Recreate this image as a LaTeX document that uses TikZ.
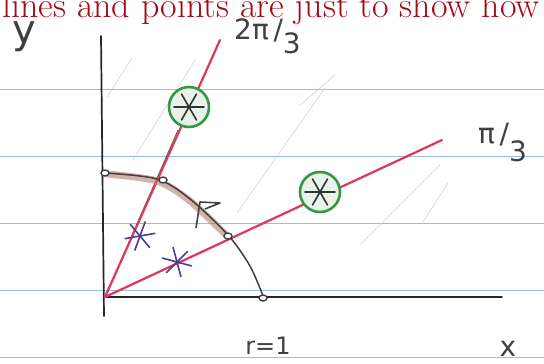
\documentclass[tikz,border=0pt]{standalone}
\usepackage{fontspec}
\newfontfamily\handfont{DejaVu Sans}
\usetikzlibrary{calc, shapes.geometric}
\definecolor{titlered}{RGB}{165,10,20}
\definecolor{inkred}{RGB}{222,55,90}
\definecolor{inkgreen}{RGB}{55,150,70}
\definecolor{inkpurple}{RGB}{75,60,150}
\definecolor{paperblue}{RGB}{150,190,230}
\definecolor{arcbrown}{RGB}{185,125,115}

\tikzset{
  asterisk/.pic={
    \foreach \a in {0,60,120} {
      \draw[line width=1.6pt, line cap=round] (\a:15pt) -- (\a+180:15pt);
    }
  }
}

\begin{document}
\begin{tikzpicture}[x=1pt, y=-1pt,
  ruleline/.style={paperblue, line width=0.9pt},
  axis/.style={black!85, line width=1.7pt, line cap=round},
  ray/.style={inkred, line width=2.2pt, line cap=round},
  guide/.style={gray!35, line width=0.6pt},
  hand/.style={font=\handfont\fontsize{28}{30}\selectfont, text=black!75, inner sep=0pt},
  dotmark/.style={draw=black!75, line width=1.4pt, fill=white, ellipse, minimum width=8pt, minimum height=6pt, inner sep=0pt},
  greenring/.style={draw=inkgreen, fill=inkgreen!12, line width=2.6pt, circle, minimum size=40pt, inner sep=0pt}]
  \useasboundingbox (0,0) rectangle (544,364);
  \clip (0,0) rectangle (544,364);
  % lined paper
  \foreach \y in {89,156,223,290,357} {
    \draw[ruleline] (0,\y) -- (544,\y);
  }
  % faint pencil strokes
  \draw[guide] (107,97) -- (132,58);
  \draw[guide] (133,160) -- (195,60);
  \draw[guide] (237,213) -- (325,88);
  \draw[guide] (300,105) -- (335,75);
  \draw[guide] (360,245) -- (440,165);
  \draw[guide] (423,222) -- (448,183);
  % title text
  \node[anchor=base west, text=titlered, font=\fontsize{36}{40}\selectfont, inner sep=0pt] (title) at (2,17) {lines and points are just to show how};
  % axes
  \coordinate (O) at (105,297);
  \coordinate (ytop) at (101,36);
  \coordinate (ybot) at (104,316);
  \coordinate (xend) at (502,297);
  \draw[axis] (ytop) -- (ybot);
  \draw[axis] (O) -- (xend);
  % rays
  \coordinate (twothird) at (220,40);
  \coordinate (onethird) at (442,140);
  \draw[inkgreen!70!black, line width=0.8pt] (O) -- (178,130);
  \draw[ray] (O) -- (twothird);
  \draw[ray] (O) -- (onethird);
  % arc r = 1
  \draw[arcbrown, line width=7pt, opacity=0.6, line cap=round] plot[smooth] coordinates {(107,174) (157,181) (190,201) (226,235)};
  \draw[black!75, line width=1.5pt] plot[smooth] coordinates {(105,173) (157,179) (190,199) (228,235) (250,266) (263,296)};
  \draw[black!75, line width=1.6pt, line join=round] (196,228) -- (200,202) -- (220,203) -- (205,209);
  % intersections
  \node[dotmark] (py) at (105,173) {};
  \node[dotmark] (pa) at (163,180) {};
  \node[dotmark] (pb) at (228,236) {};
  \node[dotmark] (px) at (263,298) {};
  % points
  \node[greenring] (ga) at (189,107) {};
  \pic[black!80] at (ga) {asterisk};
  \node[greenring] (gb) at (320,192) {};
  \pic[black!80] at (gb) {asterisk};
  \pic[inkpurple, rotate=10] at (140,236) {asterisk};
  \pic[inkpurple, rotate=-15] at (177,262) {asterisk};
  % labels
  \node[hand, font=\handfont\fontsize{40}{42}\selectfont] (ylab) at (24,37) {y};
  \node[hand] (xlab) at (508,349) {x};
  \node[hand, font=\handfont\fontsize{24}{26}\selectfont] (rlab) at (268,346) {r=1};
  \node[hand, anchor=base west] (lab2) at (234,39) {2π\,/\raisebox{-14pt}{3}};
  \node[hand, anchor=base west] (lab1) at (478,143) {π\,/\raisebox{-18pt}{3}};
\end{tikzpicture}
\end{document}
